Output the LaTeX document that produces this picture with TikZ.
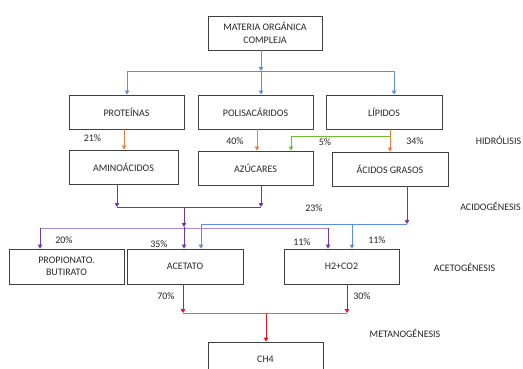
\documentclass[tikz,border=0pt]{standalone}
\usepackage{fontspec}
\setmainfont{Carlito}
\usetikzlibrary{arrows.meta}
\definecolor{cblue}{HTML}{5B8FE0}
\definecolor{corange}{HTML}{F07C3C}
\definecolor{cgreen}{HTML}{6CBF2C}
\definecolor{cpurple}{HTML}{7434A8}
\definecolor{clpurple}{HTML}{B088D8}
\definecolor{cred}{HTML}{F01010}
\definecolor{clred}{HTML}{FF5A5A}
\definecolor{boxc}{HTML}{404040}
\definecolor{txt}{HTML}{262626}
\begin{document}
\begin{tikzpicture}[x=1pt,y=-1pt,
  font=\fontsize{10}{12.5}\selectfont,
  box/.style={draw=boxc, line width=0.9pt, inner sep=0pt, align=center, text=txt, minimum height=34pt},
  lbl/.style={text=txt, inner sep=0pt},
  arr/.style={-{Triangle[width=4.5pt,length=4pt]}, line width=0.9pt},
  ln/.style={line width=0.9pt}]
\useasboundingbox (0,0) rectangle (523,369);

% boxes
\node[box, minimum width=114pt] (mo) at (265,33) {MATERIA ORGÁNICA\\COMPLEJA};
\node[box, minimum width=115pt] (prot) at (126.5,112) {PROTEÍNAS};
\node[box, minimum width=115pt] (poli) at (255.5,112) {POLISACÁRIDOS};
\node[box, minimum width=116pt] (lip) at (384,112) {LÍPIDOS};
\node[box, minimum width=109pt] (amino) at (123.5,167) {AMINOÁCIDOS};
\node[box, minimum width=115pt] (azuc) at (255.5,168) {AZÚCARES};
\node[box, minimum width=116pt] (acid) at (390,169) {ÁCIDOS GRASOS};
\node[box, minimum width=115pt, minimum height=35pt] (prop) at (66.5,266.5) {PROPIONATO.\\BUTIRATO};
\node[box, minimum width=116pt, minimum height=35pt] (acet) at (185,266.5) {ACETATO};
\node[box, minimum width=115pt, minimum height=35pt] (h2) at (341.5,266.5) {H2+CO2};
\node[box, minimum width=115pt] (ch4) at (265.5,359) {CH4};

% hydrolysis (blue)
\coordinate (j1) at (261,71);
\coordinate (p1) at (127,71);
\coordinate (p3) at (394,71);
\draw[cblue,arr] (mo.south -| j1) -- (j1);
\draw[cblue,arr] (j1) -- (p1) -- (p1 |- prot.north);
\draw[cblue,arr] (j1) -- (j1 |- poli.north);
\draw[cblue,arr] (j1) -- (p3) -- (p3 |- lip.north);

% orange
\coordinate (o1) at (124,0);
\coordinate (o2) at (257,0);
\coordinate (o3) at (390,0);
\draw[corange,arr] (prot.south -| o1) -- (amino.north -| o1);
\draw[corange,arr] (poli.south -| o2) -- (azuc.north -| o2);
\draw[corange,arr] (lip.south -| o3) -- (acid.north -| o3);

% green
\coordinate (g1) at (390,136);
\coordinate (g2) at (291,136);
\draw[cgreen,arr] (g1) -- (g2) -- (azuc.north -| g2);

% purple (acidogenesis)
\coordinate (pa) at (117,207);
\coordinate (pb) at (261,207);
\coordinate (pc) at (184,207);
\coordinate (pd) at (184,227);
\draw[cpurple,arr] (amino.south -| pa) -- (pa);
\draw[cpurple,arr] (azuc.south -| pb) -- (pb);
\draw[cpurple,ln] (pa) -- (pb);

% light purple distribution
\coordinate (la) at (40,228);
\coordinate (lb) at (328,228);
\draw[clpurple,ln] (la) -- (lb);
\draw[cpurple,arr] (la) -- (prop.north -| la);
\draw[cpurple,arr] (lb) -- (h2.north -| lb);

% from acidos grasos (blue)
\coordinate (qa) at (407,224);
\coordinate (qb) at (201,224);
\coordinate (qc) at (352,224);
\draw[cpurple,arr] (acid.south -| qa) -- (qa);
\draw[cblue,arr] (qa) -- (qb) -- (acet.north -| qb);
\draw[cblue,arr] (qc) -- (h2.north -| qc);

\draw[cpurple,arr] (pc) -- (pd);
\draw[cpurple,arr] (pd) -- (acet.north -| pd);

% red (methanogenesis)
\coordinate (ra) at (183,313);
\coordinate (rb) at (347,313);
\coordinate (rc) at (266,313);
\draw[cred,arr] (acet.south -| ra) -- (ra);
\draw[cred,arr] (h2.south -| rb) -- (rb);
\draw[clred,ln] (ra) -- (rb);
\draw[cred,arr] (rc) -- (ch4.north -| rc);

% labels
\node[lbl] (l21) at (92.5,138) {21\%};
\node[lbl] (l40) at (235,141) {40\%};
\node[lbl] (l5) at (325,142) {5\%};
\node[lbl] (l34) at (415,141) {34\%};
\node[lbl] (hid) at (498.5,140) {HIDRÓLISIS};
\node[lbl] (l23) at (314,208) {23\%};
\node[lbl] (acg) at (490.5,206) {ACIDOGÉNESIS};
\node[lbl] (l20) at (64,240) {20\%};
\node[lbl] (l35) at (159,244) {35\%};
\node[lbl] (l11a) at (302,242) {11\%};
\node[lbl] (l11b) at (377,240) {11\%};
\node[lbl] (act) at (464.5,267) {ACETOGÉNESIS};
\node[lbl] (l70) at (166,296) {70\%};
\node[lbl] (l30) at (362,296) {30\%};
\node[lbl] (met) at (405,333) {METANOGÉNESIS};
\end{tikzpicture}
\end{document}
